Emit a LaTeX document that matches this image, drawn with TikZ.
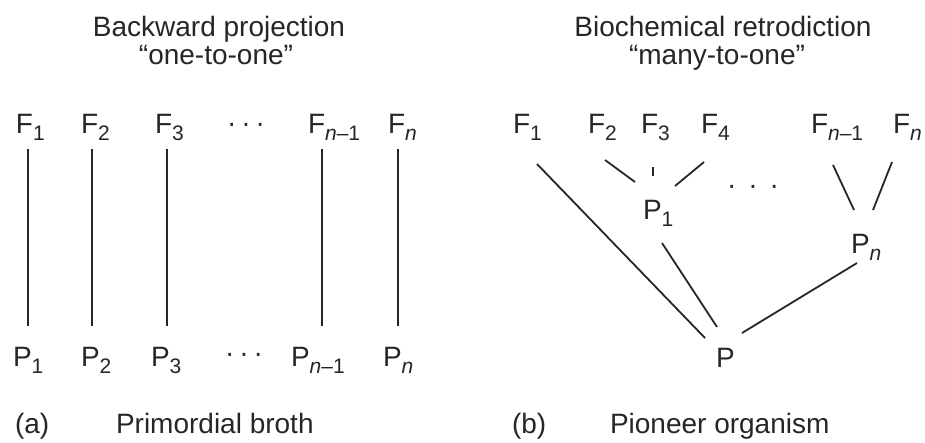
\documentclass[tikz,border=0pt]{standalone}
\usepackage{fontspec}
\setmainfont{Liberation Sans}
\usetikzlibrary{calc}
\definecolor{ink}{gray}{0.15}
\newcommand{\sbs}[1]{\raisebox{-7pt}{\fontsize{21}{21}\selectfont #1}}
\begin{document}
\begin{tikzpicture}[x=1pt,y=-1pt,
  lbl/.style={anchor=base west,inner sep=0pt,outer sep=0pt,text=ink,font=\fontsize{28}{30}\selectfont},
  ttl/.style={anchor=base,inner sep=0pt,outer sep=0pt,text=ink,font=\fontsize{28}{30}\selectfont},
  dotsnode/.style={anchor=center,inner sep=0pt,text=ink,font=\fontsize{28}{30}\selectfont},
  conn/.style={draw=ink,line width=1.8pt}]
\useasboundingbox (0,0) rectangle (925,442);
% ---------- (a) ----------
\node[ttl] (ta1) at (219,36) {Backward projection};
\node[ttl] (ta2) at (216,64) {“one-to-one”};
\node[lbl] (aF1) at (16,133) {F\sbs{1}};
\node[lbl] (aF2) at (81,133) {F\sbs{2}};
\node[lbl] (aF3) at (155,133) {F\sbs{3}};
\node[dotsnode] (aFd) at (246,128) {·\hskip5pt·\hskip5pt·};
\node[lbl] (aFm) at (308,133) {F\sbs{\textit{n}–1}};
\node[lbl] (aFn) at (388,133) {F\sbs{\textit{n}}};
\node[lbl] (aP1) at (13,366) {P\sbs{1}};
\node[lbl] (aP2) at (81,366) {P\sbs{2}};
\node[lbl] (aP3) at (151,366) {P\sbs{3}};
\node[dotsnode] (aPd) at (244,358) {·\hskip5pt·\hskip5pt·};
\node[lbl] (aPm) at (291,366) {P\sbs{\textit{n}–1}};
\node[lbl] (aPn) at (383,366) {P\sbs{\textit{n}}};
\node[lbl] (la) at (15,433) {(a)};
\node[lbl] (ca) at (116,433) {Primordial broth};
\draw[conn] ($(aF1.base west)+(12,16)$) -- ($(aP1.base west)+(15,-40)$);
\draw[conn] ($(aF2.base west)+(11,16)$) -- ($(aP2.base west)+(11,-40)$);
\draw[conn] ($(aF3.base west)+(12,16)$) -- ($(aP3.base west)+(16,-40)$);
\draw[conn] ($(aFm.base west)+(14,16)$) -- ($(aPm.base west)+(31,-40)$);
\draw[conn] ($(aFn.base west)+(10,16)$) -- ($(aPn.base west)+(15,-40)$);
% ---------- (b) ----------
\node[ttl] (tb1) at (723,36) {Biochemical retrodiction};
\node[ttl] (tb2) at (717,64) {“many-to-one”};
\node[lbl] (bF1) at (513,133) {F\sbs{1}};
\node[lbl] (bF2) at (588,133) {F\sbs{2}};
\node[lbl] (bF3) at (641,133) {F\sbs{3}};
\node[lbl] (bF4) at (701,133) {F\sbs{4}};
\node[lbl] (bFm) at (811,133) {F\sbs{\textit{n}–1}};
\node[lbl] (bFn) at (893,133) {F\sbs{\textit{n}}};
\node[lbl] (bP1) at (643,219) {P\sbs{1}};
\node[dotsnode] (bd) at (753,190) {·\hskip12pt·\hskip12pt·};
\node[lbl] (bPn) at (851,253) {P\sbs{\textit{n}}};
\node[lbl] (bP) at (716,367) {P};
\node[lbl] (lb) at (512,433) {(b)};
\node[lbl] (cb) at (610,433) {Pioneer organism};
\draw[conn] ($(bF1.base west)+(24,31)$) -- ($(bP.base west)+(-11,-29)$);
\draw[conn] ($(bF2.base west)+(17,27)$) -- ($(bP1.base west)+(-8,-37)$);
\draw[conn] ($(bF3.base west)+(12,34)$) -- ($(bF3.base west)+(12,43)$);
\draw[conn] ($(bF4.base west)+(3,29)$) -- ($(bP1.base west)+(32,-33)$);
\draw[conn] ($(bP1.base west)+(19,24)$) -- ($(bP.base west)+(1,-40)$);
\draw[conn] ($(bP.base west)+(26,-34)$) -- ($(bPn.base west)+(6,10)$);
\draw[conn] ($(bFm.base west)+(22,32)$) -- ($(bPn.base west)+(3,-43)$);
\draw[conn] ($(bFn.base west)+(-1,29)$) -- ($(bPn.base west)+(22,-43)$);
\end{tikzpicture}
\end{document}
